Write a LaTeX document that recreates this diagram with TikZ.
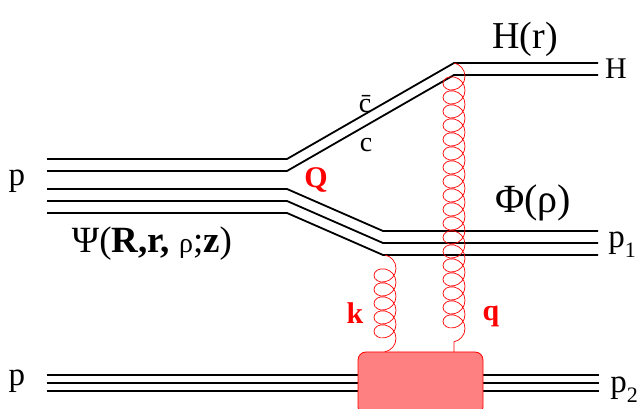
\documentclass[tikz,border=0pt]{standalone}
\usepackage{fontspec}
\setmainfont{Liberation Serif}
\usetikzlibrary{calc,decorations.pathmorphing}
\definecolor{blobred}{RGB}{255,128,128}

\begin{document}
\begin{tikzpicture}[x=1pt,y=1pt,
    quark/.style={line width=1.8pt},
    gluon/.style={red,line width=0.7pt,decorate,
        decoration={coil,amplitude=11pt,segment length=14pt,aspect=0.9}},
    blob/.style={draw=red,fill=blobred,rounded corners=8pt,line width=0.8pt,
        minimum width=125pt,minimum height=63pt,inner sep=0pt,outer sep=0pt},
    lbl/.style={font=\fontsize{33}{33}\selectfont,inner sep=0pt},
    rlbl/.style={font=\fontsize{30}{30}\selectfont\bfseries,text=red,inner sep=0pt}]
    \useasboundingbox (0,0) rectangle (640,409);

    % Vertices:
    % The quark lines bend at the same x, the offsets are added below:
    \coordinate (pin)   at (47,250);
    \coordinate (split) at (287,250);
    \coordinate (hv)    at (454,346);
    \coordinate (hout)  at (598,346);
    \coordinate (pin2)  at (47,220);
    \coordinate (split2) at (287,220);
    \coordinate (kv)    at (383,178);
    \coordinate (pout)  at (598,178);
    \coordinate (tin)   at (47,34);
    \coordinate (tout)  at (599,34);

    % c cbar pair going up to H:
    \foreach \dy in {0,12}
        \draw[quark] ($(pin)+(0,-\dy)$) -- ($(split)+(0,-\dy)$)
            -- ($(hv)+(0,-\dy)$) -- ($(hout)+(0,-\dy)$);
    % Remnant going down to p1:
    \foreach \dy in {0,12,24}
        \draw[quark] ($(pin2)+(0,-\dy)$) -- ($(split2)+(0,-\dy)$)
            -- ($(kv)+(0,-\dy)$) -- ($(pout)+(0,-\dy)$);
    % Target proton:
    \foreach \dy in {0,8,16}
        \draw[quark] ($(tin)+(0,-\dy)$) -- ($(tout)+(0,-\dy)$);

    % Blob on the target:
    \node[blob] (blob) at (420.5,25.5) {};

    % Gluons:
    \coordinate (kb) at ($(kv)+(2,-24)$);
    \draw[gluon] (kb) -- (kb |- blob.north);
    \draw[gluon] (hv) -- (hv |- blob.north);

    % Labels:
    \node[lbl] (lp)  at (17,228) {p};
    \node[lbl] (lp2) at (17,28) {p};
    \node[lbl,font=\fontsize{30}{30}\selectfont] (lh) at (616,340) {H};
    \node[lbl] (lp1) at (622,164) {p\raisebox{-0.3em}{\fontsize{22}{22}\selectfont 1}};
    \node[lbl] (lpt) at (624,19) {p\raisebox{-0.3em}{\fontsize{22}{22}\selectfont 2}};
    \node[lbl,font=\fontsize{38}{38}\selectfont] (lhr) at (525,370) {H(r)};
    \node[lbl,font=\fontsize{40}{40}\selectfont] (lphi) at (533,206) {Φ(ρ)};
    \node[lbl,font=\fontsize{37}{37}\selectfont] (lpsi) at (152,165)
        {Ψ(\textbf{R,r,} {\fontsize{28}{28}\selectfont ρ};\textbf{z})};
    \node[lbl,font=\fontsize{28}{28}\selectfont] (lcb) at (365,305) {\=c};
    \node[lbl,font=\fontsize{28}{28}\selectfont] (lc)  at (366,264) {c};
    \node[rlbl] (lq) at (316,229) {Q};
    \node[rlbl] (lk) at (355,96) {k};
    \node[rlbl] (lqq) at (491,93) {q};
\end{tikzpicture}
\end{document}
